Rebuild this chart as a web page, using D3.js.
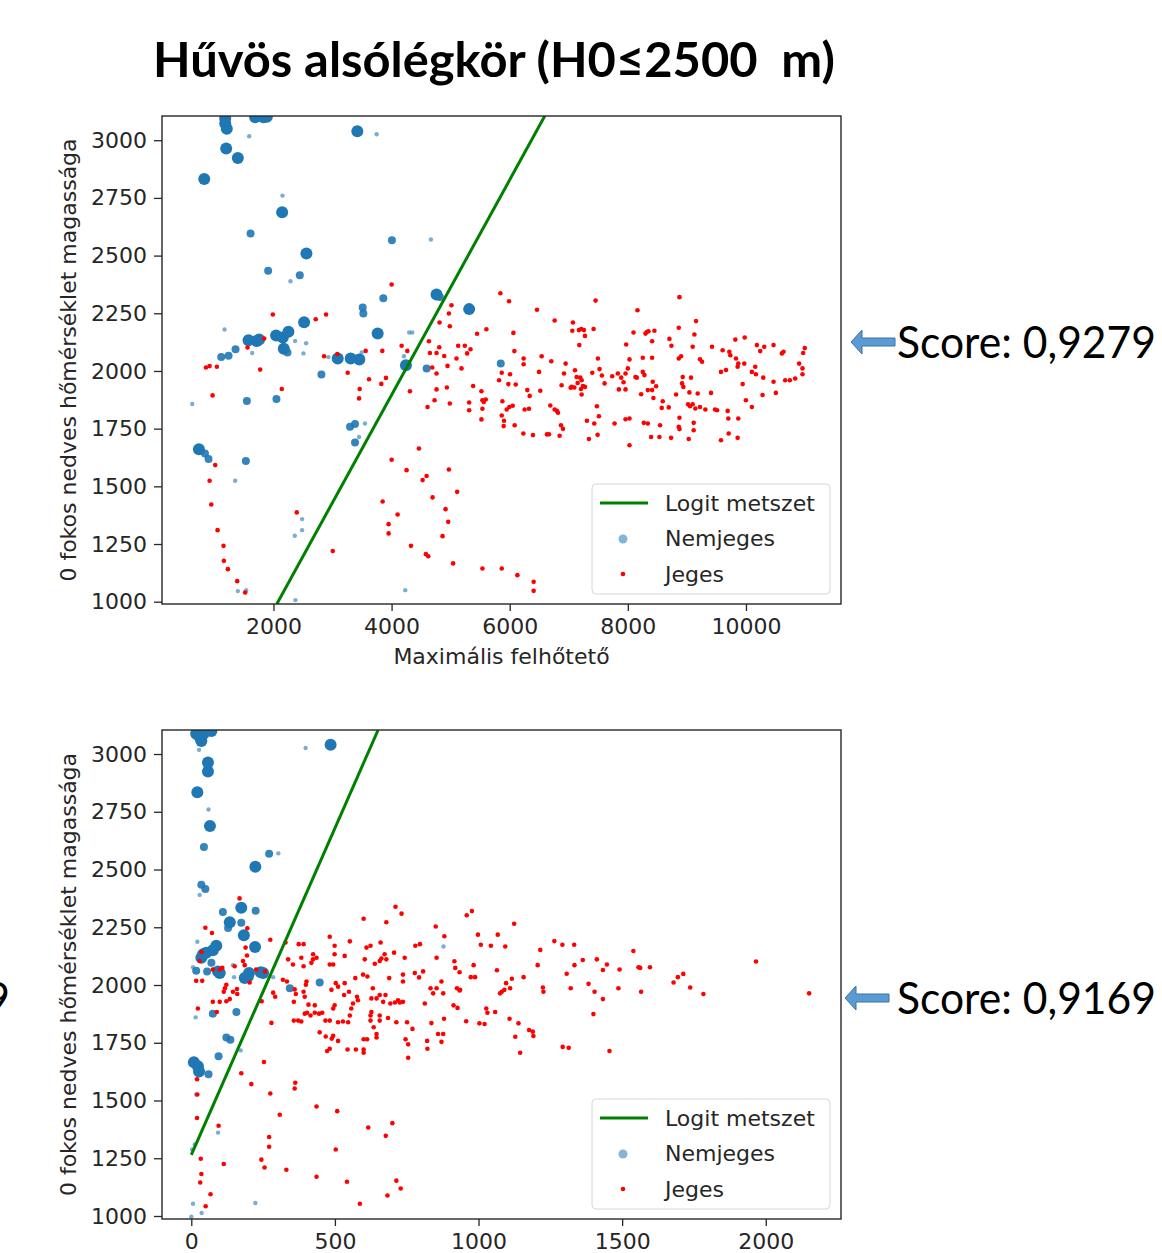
<!DOCTYPE html>
<meta charset="utf-8">
<style>
body { margin: 0; background: #fff; }
svg { display: block; font-family: 'DejaVu Sans', sans-serif; }
.axis text { font-size: 22px; fill: #262626; font-family: 'DejaVu Sans', sans-serif; }
.axis line { stroke: #262626; stroke-width: 1.3px; }
.legend text { font-size: 22px; fill: #262626; }
.big { font-family: Lato, 'Open Sans', sans-serif; fill: #000; white-space: pre; }
</style>
<svg width="1162" height="1253"></svg>
<script src="https://d3js.org/d3.v7.min.js"></script>
<script>

var title = "Hűvös alsólégkör (H0≤2500  m)";
var yLabel = "0 fokos nedves hőmérséklet magassága";
var xLabel = "Maximális felhőtető";
var legendLabels = ["Logit metszet", "Nemjeges", "Jeges"];
var scores = ["Score: 0,9279", "Score: 0,9169"];

var yTicks = [1000, 1250, 1500, 1750, 2000, 2250, 2500, 2750, 3000];
var topXTicks = [2000, 4000, 6000, 8000, 10000];
var bottomXTicks = [0, 500, 1000, 1500, 2000];

// logit boundary end points [x, y]
var topLogit = [[2057, 990], [6593, 3105]];
var bottomLogit = [[0, 1265], [650, 3103]];

// blue: [x, y, size class]
var topBlue = [[1183,3094,3],[1183,3072,3],[1210,3050,3],[1690,3100,3],[1831,3100,3],[1888,3102,3],[3420,3039,3],[1200,2964,3],[1397,2923,3],[828,2832,3],[2147,2688,3],[1612,2596,2],[2558,2509,3],[1910,2434,2],[2446,2415,2],[2288,2389,1],[4006,2567,2],[4666,2570,1],[3860,2315,2],[3511,2275,2],[3522,2249,2],[2519,2211,3],[1172,2180,1],[3764,2162,3],[4350,2167,1],[4761,2331,3],[4817,2321,2],[5313,2268,3],[2045,2154,3],[2158,2145,3],[2254,2170,3],[1578,2133,3],[1719,2130,3],[1758,2136,3],[1358,2094,2],[1116,2060,2],[1240,2066,2],[1640,2078,1],[2175,2096,3],[2237,2080,2],[2367,2130,1],[2553,2120,1],[2508,2076,1],[2930,2060,1],[3088,2054,3],[3308,2054,3],[3454,2050,3],[3494,2080,1],[2812,1985,2],[4243,2025,3],[4209,2064,1],[4593,2011,2],[4298,2167,1],[5848,2032,2],[625,1857,1],[1550,1870,2],[2051,1878,2],[3296,1758,2],[3381,1770,2],[3550,1772,1],[3449,1714,1],[3381,1690,2],[738,1661,3],[840,1642,2],[901,1618,2],[1533,1610,2],[1352,1524,1],[2485,1358,1],[2485,1310,1],[2361,1286,1],[1397,1046,1],[1538,1050,1],[2372,1007,1],[4232,1050,1],[1589,3017,1],[2153,2760,1],[3747,3026,1]];

var topRed = [[857,2015],[919,2021],[1042,2018],[969,1894],[1014,1592],[919,1524],[947,1421],[1054,1310],[1155,1242],[1161,1177],[1228,1141],[1386,1089],[1521,1040],[1561,2102],[1775,2006],[1843,2141],[1989,2245],[2141,1922],[2716,2224],[2891,2245],[2857,2064],[3082,2073],[3257,1992],[3460,1922],[3449,1881],[3561,2087],[3618,1964],[3843,2087],[3826,1944],[3905,1970],[4001,2375],[4170,2109],[4266,2087],[4311,1912],[4609,1844],[4728,1873],[4761,1920],[4688,2015],[4761,1989],[4812,2210],[4632,2129],[4649,2078],[4761,2078],[4807,2103],[4891,2065],[4947,2022],[4936,1928],[3004,1220],[2395,1387],[3849,1434],[3950,1336],[3950,1296],[4102,1378],[4001,1615],[4254,1570],[4328,1242],[4463,1664],[4525,1527],[4593,1545],[4694,1452],[4581,1206],[4621,1197],[4863,1284],[4914,1401],[4959,1346],[4970,1573],[4970,2249],
[5014,2285],[4986,2194],[5842,2337],[5989,2302],[7454,2305],[8874,2320],[6462,2265],[8163,2263],[5605,2181],[5448,2161],[6062,2165],[6761,2219],[7071,2210],[7212,2182],[7257,2177],[7172,2177],[7060,2174],[7420,2182],[7274,2152],[9155,2216],[8862,2187],[9127,2158],[8096,2167],[8299,2162],[8321,2169],[8349,2172],[8450,2174],[8411,2129],[8704,2139],[9820,2136],[9978,2145],[8738,2109],
[5127,2109],[5240,2109],[5336,2094],[5279,2076],[5099,2054],[5184,2011],[4986,1859],[5381,1935],[5313,1863],[5313,1830],[5521,1912],[5538,1873],[5561,1866],[5594,1876],[5521,1790],[5538,1836],[5865,1992],[5820,1960],[6006,1986],[6079,2086],[5977,1943],[5876,1869],[5865,1807],[5904,1784],[5898,1761],[5994,1844],[6051,1849],[5949,1833],[6102,1941],[6236,2054],[6236,2029],[6298,1917],[6253,1833],[6326,1836],[6084,1765],[6231,1729],[6394,1722],[6541,2064],[6704,2042],[6338,1892],[6496,1996],[6518,1914],[6687,1850],[6761,1833],[6817,1819],[6800,1827],[6631,1725],[6665,1726],[6845,1719],[6868,1765],[6902,1749],[6947,2032],[6879,1938],[6919,1989],[7032,1927],
[7105,2003],[7133,1974],[7195,1971],[7218,1960],[7150,1948],[7240,1935],[7206,1922],[7274,1931],[7218,1898],[7094,1928],[7049,1931],[7178,2112],[7493,2054],[7398,1992],[7521,2008],[7561,1980],[7606,1946],[7476,1847],[7510,1804],[7307,1784],[7431,1772],[7488,1723],[7341,1705],[7775,1772],[7735,1977],[7831,1989],[7888,1971],[7961,1989],[8000,2011],[7927,1951],[7848,1920],[7961,1920],[7972,2115],[8028,2050],[8129,1974],[8152,1971],[8253,1996],[8281,1982],[8253,2057],[8411,2057],[8225,1899],[8338,1917],[8411,1917],[8422,1953],[8479,1934],[8433,1883],[8591,1869],[8693,1842],[8574,1840],[8270,1775],[8338,1772],[8028,1794],[7961,1791],[8028,1678],[8394,1714],[8535,1714],[8732,1710],[8546,1765],[8874,1797],[8862,1758],[8874,1748],[8817,1898],[8918,1946],[8940,1931],[8929,1974],[8862,2054],[8901,2064],[9070,1971],[9042,1907],[9183,1902],[9020,1856],[9053,1847],[9098,1856],[9143,1837],[9222,1844],[9115,1775],[9115,1743],[9031,1705],[9313,1833],[9476,1833],[9510,1830],[9408,1905],[9098,2105],[9222,2051],[9256,2040],[9425,2105],[9605,2090],[9718,2083],[9735,2068],[9577,1996],[9662,2004],[9831,2054],[9859,2018],[9870,2032],[9971,2032],[9944,1943],[9690,1827],[9701,1794],[9577,1700],[9707,1729],[9859,1710],[9870,1794],[9999,1873],[10100,1844],[10100,1996],[10168,1986],[10157,2018],[10185,2112],[10241,2086],[10309,2105],[10292,1971],[10281,1896],[10506,1905],[10467,2112],[10467,1953],[10608,2076],[10636,2083],[10664,1960],[10743,1960],[10833,1967],[10900,2032],[10957,2011],[10957,1986],[10968,2078],[10996,2099],
[5110,1476],[5042,1166],[5538,1144],[5865,1144],[6130,1115],[6405,1086],[6405,1047]];

var bottomBlue = [[17,3088,3],[43,3088,3],[70,3100,3],[35,3056,3],[29,3074,3],[58,2963,3],[58,2924,3],[21,2834,3],[65,2688,3],[44,2597,2],[223,2512,3],[27,3018,1],[398,3026,1],[485,3040,3],[60,2760,1],[271,2568,2],[303,2570,1],[35,2434,2],[49,2416,2],[29,2390,1],[174,2334,3],[224,2321,2],[110,2316,2],[134,2272,3],[128,2247,2],[174,2270,2],[183,2215,3],[222,2165,3],[87,2170,3],[75,2150,3],[41,2133,3],[35,2118,3],[52,2140,3],[21,2187,1],[17,2062,2],[6,2077,1],[70,2096,2],[55,2059,2],[99,2052,3],[93,2059,3],[145,2086,1],[186,2030,3],[201,2052,3],[197,2037,3],[242,2055,3],[250,2052,3],[285,2034,1],[343,1986,2],[447,2011,2],[149,2034,1],[75,1876,2],[157,1883,2],[15,1860,1],[122,1773,2],[136,1763,2],[172,1717,1],[95,1692,2],[9,1666,3],[23,1648,3],[27,1626,3],[60,1614,2],[17,1526,1],[93,1361,1],[12,1310,1],[3,1288,1],[6,1053,1],[36,1013,1],[0,997,1],[223,1056,1],[878,2167,1]];

var bottomRed = [[168,2375],[49,2248],[72,2225],[195,2246],[275,2196],[29,2104],[36,2143],[17,2018],[38,2018],[75,2067],[99,2067],[108,2074],[151,2081],[180,2104],[186,2086],[194,2128],[189,2162],[203,2011],[226,2067],[122,2001],[113,1971],[117,1986],[145,1971],[159,1983],[122,1930],[134,1939],[75,1927],[99,1927],[89,1883],[23,1898],[160,1961],[245,1930],[257,2059],[285,1967],[292,1949],[279,1836],[319,2023],[333,2015],[328,2184],[374,2177],[391,2177],[337,2111],[354,2089],[383,2118],[391,2081],[418,2096],[424,2111],[424,2133],[436,2118],[360,1981],[364,1961],[357,1927],[391,1971],[395,1949],[399,2001],[401,2015],[357,1846],[372,1846],[383,1842],[395,1876],[403,1880],[415,1868],[430,1880],[445,1876],[456,1880],[408,1915],[430,1912],[447,1795],[468,1777],[489,1768],[482,1724],[473,1714],[467,1846],[482,1846],[494,1898],[499,1912],[488,1979],[503,2008],[511,1993],[482,2089],[494,2089],[499,2133],[482,2209],[499,2170],[511,1839],[528,1842],[494,1780],[511,1758],[546,1839],[552,1868],[544,1721],[573,1721],[534,2008],[532,1957],[549,1971],[563,1920],[557,1898],[552,2189],[534,2126],[571,2030],[577,1949],[580,1934],[600,2287],[604,2111],[610,2162],[598,2045],[613,2037],[600,1765],[612,1765],[600,1721],[600,1707],[627,1883],[624,1868],[632,1986],[627,1942],[645,1942],[656,1957],[668,1927],[676,1957],[639,2092],[656,2104],[662,2115],[624,1846],[635,1817],[656,1846],[656,1868],[645,1788],[645,1773],[624,2170],[659,2184],[673,2133],[679,2111],[679,2272],[689,2030],[685,1857],[693,1920],[706,2140],[711,2339],[732,2309],[720,1934],[737,1927],[714,1839],[709,1924],[726,1924],[746,1765],[755,1743],[770,1810],[751,1839],[737,2015],[737,2045],[743,2118],[755,1685],[778,2052],[793,2033],[780,2170],[796,2177],[807,2059],[813,1920],[821,1758],[822,1724],[833,1986],[842,1964],[854,1986],[836,1835],[851,2253],[881,2211],[854,2118],[871,2015],[877,1964],[880,1854],[859,1788],[877,1788],[871,1754],
[20,1592],[21,1526],[20,1424],[33,1248],[35,1182],[31,1145],[50,1042],[67,1094],[95,1391],[113,1225],[174,1618],[209,1571],[253,1667],[275,1530],[271,1342],[271,1300],[244,1244],[255,1210],[308,1438],[331,1200],[362,1577],[360,1552],[436,1474],[436,1170],[508,1454],[503,1288],[542,1148],[587,1053],[616,1383],[677,1347],[683,1089],[700,1402],[714,1153],[729,1119],
[977,2320],[959,2302],[916,2103],[934,2055],[919,2074],[983,2086],[998,2218],[1008,2174],[1043,2170],[1067,2218],[1093,2167],[1124,2265],[1064,2064],[973,2034],[988,2034],[925,1986],[934,1976],[936,1979],[913,1912],[927,1901],[957,1843],[1003,1834],[1021,1831],[1027,1898],[1031,1880],[1058,1883],[1075,1964],[1081,1971],[1090,1979],[1096,2008],[1110,1986],[1116,2027],[1108,1854],[1139,1834],[1128,1776],[1145,1707],[1157,2034],[1176,1805],[1189,1798],[1191,1779],[1206,2086],[1215,2152],[1224,1989],[1226,1971],[1264,2190],[1292,2174],[1333,2174],[1307,2049],[1321,1986],[1334,2086],[1363,2108],[1383,2005],[1404,1971],[1400,1874],[1412,2111],[1433,2065],[1447,2089],[1433,1939],[1293,1732],[1314,1728],[1456,1714],[1487,1986],[1491,2067],[1539,2147],[1557,2077],[1563,2074],[1566,1971],[1597,2077],[1679,2011],[1694,2034],[1713,2048],[1737,1989],[1783,1961],[1966,2102],[2151,1964]];

var svg = d3.select("svg");

var blueRadius = d3.scaleOrdinal().domain([1, 2, 3]).range([2.2, 4, 6]);
var blueAlpha = d3.scaleOrdinal().domain([1, 2, 3]).range([0.6, 0.9, 1]);

// stretch or squeeze a text horizontally to the given width
function fitText(sel, width) {
    var w = sel.node().getComputedTextLength();
    var k = width / w;
    var x0 = +sel.attr("x"), y0 = +sel.attr("y");
    sel.attr("x", 0).attr("y", 0)
        .attr("transform", "translate(" + x0 + "," + y0 + ") scale(" + k + ",1)");
}

function drawPanel(p) {
    var x = d3.scaleLinear().domain(p.xDomain).range([p.left, p.right]);
    var y = d3.scaleLinear().domain(p.yDomain).range([p.bottom, p.top]);

    svg.append("clipPath").attr("id", "clip" + p.id)
        .append("rect")
        .attr("x", p.left).attr("y", p.top)
        .attr("width", p.right - p.left).attr("height", p.bottom - p.top);

    var g = svg.append("g").attr("clip-path", "url(#clip" + p.id + ")");

    g.selectAll("circle.blue")
        .data(p.blue)
        .enter().append("circle")
        .attr("class", "blue")
        .attr("cx", function(d) { return x(d[0]); })
        .attr("cy", function(d) { return y(d[1]); })
        .attr("r", function(d) { return blueRadius(d[2]); })
        .attr("fill", "#1f77b4")
        .attr("fill-opacity", function(d) { return blueAlpha(d[2]); });

    g.selectAll("circle.red")
        .data(p.red)
        .enter().append("circle")
        .attr("class", "red")
        .attr("cx", function(d) { return x(d[0]); })
        .attr("cy", function(d) { return y(d[1]); })
        .attr("r", 2.3)
        .attr("fill", "#ff0000");

    g.append("path")
        .datum(p.logit)
        .attr("d", d3.line().x(function(d) { return x(d[0]); }).y(function(d) { return y(d[1]); }))
        .attr("stroke", "#008000")
        .attr("stroke-width", 3)
        .attr("fill", "none");

    var xa = svg.append("g")
        .attr("class", "axis")
        .attr("transform", "translate(0," + p.bottom + ")")
        .call(d3.axisBottom(x).tickValues(p.xTicks).tickSize(7).tickPadding(7).tickFormat(d3.format("d")));
    xa.select(".domain").remove();

    var ya = svg.append("g")
        .attr("class", "axis")
        .attr("transform", "translate(" + p.left + ",0)")
        .call(d3.axisLeft(y).tickValues(yTicks).tickSize(8).tickPadding(7).tickFormat(d3.format("d")));
    ya.select(".domain").remove();

    svg.append("rect")
        .attr("x", p.left).attr("y", p.top)
        .attr("width", p.right - p.left).attr("height", p.bottom - p.top)
        .attr("fill", "none")
        .attr("stroke", "#262626")
        .attr("stroke-width", 1.4);

    svg.append("text")
        .attr("transform", "translate(76," + (p.top + p.bottom) / 2 + ") rotate(-90)")
        .attr("text-anchor", "middle")
        .style("font-size", "22px")
        .attr("fill", "#262626")
        .text(yLabel);

    if (p.xLabel) {
        svg.append("text")
            .attr("x", (p.left + p.right) / 2)
            .attr("y", p.bottom + 60)
            .attr("text-anchor", "middle")
            .style("font-size", "22px")
            .attr("fill", "#262626")
            .text(p.xLabel);
    }

    // legend
    var lw = 238, lh = 110;
    var lx = p.right - 11 - lw, ly = p.bottom - 10 - lh;
    var lg = svg.append("g").attr("class", "legend");
    lg.append("rect")
        .attr("x", lx).attr("y", ly)
        .attr("width", lw).attr("height", lh)
        .attr("rx", 4)
        .attr("fill", "#fff").attr("fill-opacity", 0.8)
        .attr("stroke", "#d6d6d6");
    lg.append("line")
        .attr("x1", lx + 8).attr("x2", lx + 56)
        .attr("y1", ly + 19).attr("y2", ly + 19)
        .attr("stroke", "#008000").attr("stroke-width", 3);
    lg.append("circle")
        .attr("cx", lx + 31).attr("cy", ly + 55).attr("r", 4.5)
        .attr("fill", "#1f77b4").attr("fill-opacity", 0.55);
    lg.append("circle")
        .attr("cx", lx + 31).attr("cy", ly + 90).attr("r", 2.3)
        .attr("fill", "#ff0000");
    lg.selectAll("text")
        .data(legendLabels)
        .enter().append("text")
        .attr("x", lx + 73)
        .attr("y", function(d, i) { return ly + 19 + i * 35.5; })
        .attr("dy", "0.35em")
        .text(function(d) { return d; });

    // score with arrow
    var ax = p.arrowX, ay = p.scoreY;
    svg.append("path")
        .attr("d", "M" + ax + "," + ay + " l11,-12 l0,8 l33,0 l0,8 l-33,0 l0,8 z")
        .attr("fill", "#5b9bd5")
        .attr("stroke", "#41719c")
        .attr("stroke-width", 1);
    var st = svg.append("text")
        .attr("class", "big")
        .attr("x", 897)
        .attr("y", ay + 16)
        .style("font-size", "44px")
        .text(p.score);
    fitText(st, 259);
}

var tt = svg.append("text")
    .attr("class", "big")
    .attr("x", 153)
    .attr("y", 77)
    .style("font-size", "48px")
    .style("font-weight", "bold")
    .text(title);
fitText(tt, 682);

drawPanel({
    id: "top", left: 162, right: 841, top: 116, bottom: 604,
    xDomain: [113, 11609], yDomain: [990, 3105],
    xTicks: topXTicks, blue: topBlue, red: topRed, logit: topLogit,
    xLabel: xLabel, score: scores[0], arrowX: 851, scoreY: 342
});

drawPanel({
    id: "bottom", left: 162, right: 841, top: 730, bottom: 1219,
    xDomain: [-102, 2262], yDomain: [987, 3104],
    xTicks: bottomXTicks, blue: bottomBlue, red: bottomRed, logit: bottomLogit,
    xLabel: null, score: scores[1], arrowX: 845, scoreY: 998
});

// clipped text fragment at the left edge, as in the source
svg.append("text")
    .attr("class", "big")
    .attr("x", 10)
    .attr("y", 1014)
    .attr("text-anchor", "end")
    .style("font-size", "44px")
    .text("9");

</script>
